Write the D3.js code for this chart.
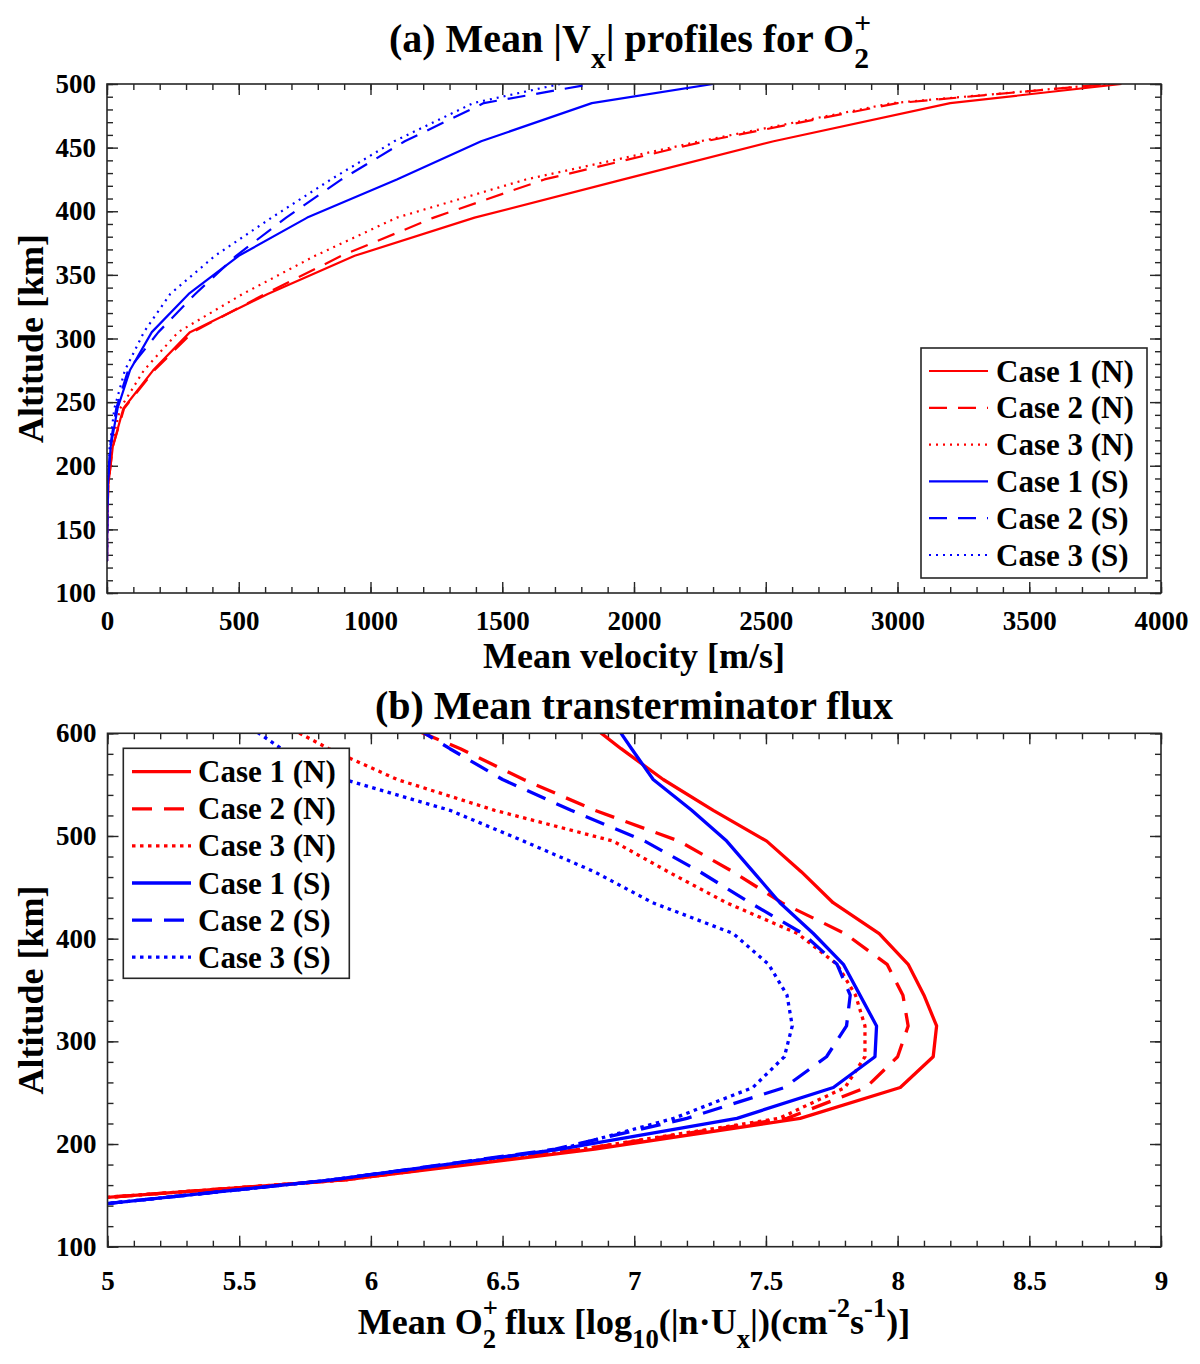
<!DOCTYPE html>
<html>
<head>
<meta charset="utf-8">
<script src="https://cdn.jsdelivr.net/npm/d3@7"></script>
<style>
  body { margin: 0; background: #fff; }
  svg text { font-family: "Liberation Serif", "Times New Roman", serif; font-weight: bold; fill: #000; }
</style>
</head>
<body>
<svg id="fig" width="1200" height="1364"></svg>
<script>
// ---- data ----
const caseLabels = ["Case 1 (N)", "Case 2 (N)", "Case 3 (N)", "Case 1 (S)", "Case 2 (S)", "Case 3 (S)"];
const caseColors = ["#ff0000", "#ff0000", "#ff0000", "#0000ff", "#0000ff", "#0000ff"];
const caseStyles = ["solid", "dashed", "dotted", "solid", "dashed", "dotted"];

// panel (a): mean |Vx| [m/s] vs altitude [km]
const altA = [125, 155, 185, 215, 245, 275, 305, 335, 365, 395, 425, 455, 485, 500];
const velN1 = [0, 1, 5, 22, 62, 175, 315, 610, 940, 1395, 1960, 2530, 3200, 3850];
const velN2 = [0, 1, 5, 22, 65, 180, 325, 600, 890, 1240, 1660, 2270, 3000, 3800];
const velN3 = [0, 1, 4, 16, 50, 140, 270, 515, 790, 1100, 1590, 2250, 2980, 3800];
const velS1 = [0, 1, 3, 14, 40, 87, 170, 310, 500, 760, 1100, 1420, 1840, 2300];
const velS2 = [0, 1, 3, 12, 35, 80, 195, 335, 490, 680, 890, 1130, 1430, 1840];
const velS3 = [0, 1, 3, 10, 28, 68, 140, 240, 410, 625, 850, 1090, 1390, 1720];
const velTicks = [0, 500, 1000, 1500, 2000, 2500, 3000, 3500, 4000];
const altTicksA = [100, 150, 200, 250, 300, 350, 400, 450, 500];

// panel (b): log10 flux vs altitude [km]
const altB = [135, 165, 195, 225, 255, 285, 315, 345, 375, 405, 435, 465, 495, 525, 555, 585, 615];
const fluxN1 = [4.3, 5.9, 6.85, 7.63, 8.01, 8.135, 8.148, 8.10, 8.04, 7.93, 7.755, 7.635, 7.503, 7.30, 7.11, 6.95, 6.80];
const fluxN2 = [4.3, 5.9, 6.8, 7.58, 7.88, 8.0, 8.04, 8.02, 7.96, 7.80, 7.56, 7.376, 7.17, 6.85, 6.58, 6.34, 6.06];
const fluxN3 = [4.3, 5.9, 6.8, 7.55, 7.8, 7.876, 7.876, 7.84, 7.77, 7.62, 7.35, 7.13, 6.92, 6.47, 6.10, 5.84, 5.62];
const fluxS1 = [4.74, 5.85, 6.72, 7.39, 7.756, 7.914, 7.92, 7.857, 7.794, 7.68, 7.553, 7.452, 7.351, 7.218, 7.072, 6.99, 6.91];
const fluxS2 = [4.74, 5.85, 6.7, 7.2, 7.57, 7.73, 7.806, 7.82, 7.77, 7.64, 7.44, 7.25, 7.04, 6.76, 6.50, 6.30, 6.11];
const fluxS3 = [4.74, 5.85, 6.72, 7.15, 7.45, 7.57, 7.60, 7.58, 7.51, 7.376, 7.07, 6.85, 6.58, 6.30, 5.90, 5.66, 5.49];
const fluxTicks = [5, 5.5, 6, 6.5, 7, 7.5, 8, 8.5, 9];
const altTicksB = [100, 200, 300, 400, 500, 600];

const fig = d3.select("#fig");
const axisColor = "#262626";

// write text made of plain / sub / sup pieces; "stack" puts a piece over the previous one
function rich(text, parts, fs) {
  let cur = 0;
  let back = 0; // dx to apply to the next piece
  let prev = null;
  parts.forEach(p => {
    const shift = p.s === "sub" ? fs * 0.4 : (p.s === "sup" || p.s === "stack") ? -fs * 0.48 : 0;
    const ts = text.append("tspan")
      .attr("dy", shift - cur)
      .style("font-size", p.s ? (fs * 0.74) + "px" : null)
      .text(p.t);
    if (p.s === "stack" && prev) {
      const wPrev = prev.node().getComputedTextLength();
      ts.attr("dx", -wPrev);
      back = wPrev - ts.node().getComputedTextLength();
    } else {
      if (back) ts.attr("dx", back);
      back = 0;
    }
    cur = shift;
    prev = ts;
  });
}

function drawPanel(cfg) {
  const x = d3.scaleLinear().domain(cfg.xDomain).range([cfg.x0, cfg.x1]);
  const y = d3.scaleLinear().domain(cfg.yDomain).range([cfg.y1, cfg.y0]);
  const g = fig.append("g").attr("color", axisColor);

  const xMinor = d3.range(cfg.xDomain[0], cfg.xDomain[1] + 1e-9, cfg.xMinorStep);
  const yMinor = d3.range(cfg.yDomain[0], cfg.yDomain[1] + 1e-9, cfg.yMinorStep);

  // minor ticks on all four sides
  const minor = [
    [d3.axisBottom(x).tickValues(xMinor), `translate(0,${cfg.y1})`],
    [d3.axisTop(x).tickValues(xMinor), `translate(0,${cfg.y0})`],
    [d3.axisLeft(y).tickValues(yMinor), `translate(${cfg.x0},0)`],
    [d3.axisRight(y).tickValues(yMinor), `translate(${cfg.x1},0)`]
  ];
  minor.forEach(([ax, tr]) => {
    g.append("g").attr("transform", tr)
      .call(ax.tickSize(-6).tickFormat(""))
      .call(s => s.select(".domain").remove())
      .selectAll("line").attr("stroke-width", 1.4);
  });

  // major ticks, labelled on bottom and left
  g.append("g").attr("transform", `translate(0,${cfg.y1})`)
    .call(d3.axisBottom(x).tickValues(cfg.xTicks).tickSize(-11).tickPadding(cfg.xPad).tickFormat(d3.format("")))
    .call(s => s.select(".domain").remove())
    .call(s => s.selectAll("line").attr("stroke-width", 1.4))
    .call(s => s.selectAll("text").style("font-size", "27px"));
  g.append("g").attr("transform", `translate(0,${cfg.y0})`)
    .call(d3.axisTop(x).tickValues(cfg.xTicks).tickSize(-11).tickFormat(""))
    .call(s => s.select(".domain").remove())
    .selectAll("line").attr("stroke-width", 1.4);
  g.append("g").attr("transform", `translate(${cfg.x0},0)`)
    .call(d3.axisLeft(y).tickValues(cfg.yTicks).tickSize(-11).tickPadding(11))
    .call(s => s.select(".domain").remove())
    .call(s => s.selectAll("line").attr("stroke-width", 1.4))
    .call(s => s.selectAll("text").style("font-size", "27px"));
  g.append("g").attr("transform", `translate(${cfg.x1},0)`)
    .call(d3.axisRight(y).tickValues(cfg.yTicks).tickSize(-11).tickFormat(""))
    .call(s => s.select(".domain").remove())
    .selectAll("line").attr("stroke-width", 1.4);

  // curves
  const clipId = "clip-" + cfg.id;
  fig.append("clipPath").attr("id", clipId)
    .append("rect")
    .attr("x", cfg.x0).attr("y", cfg.y0)
    .attr("width", cfg.x1 - cfg.x0).attr("height", cfg.y1 - cfg.y0);

  const line = d3.line().x(d => x(d.v)).y(d => y(d.a));
  const plot = fig.append("g").attr("clip-path", `url(#${clipId})`);
  cfg.series.forEach((vals, i) => {
    const pts = cfg.alts.map((a, j) => ({ a: a, v: vals[j] }));
    plot.append("path")
      .datum(pts)
      .attr("d", line)
      .attr("fill", "none")
      .attr("stroke", caseColors[i])
      .attr("stroke-width", cfg.lw)
      .attr("stroke-linejoin", "round")
      .attr("stroke-dasharray", cfg.dash[caseStyles[i]]);
  });

  // box
  fig.append("rect")
    .attr("x", cfg.x0).attr("y", cfg.y0)
    .attr("width", cfg.x1 - cfg.x0).attr("height", cfg.y1 - cfg.y0)
    .attr("fill", "none")
    .attr("stroke", axisColor)
    .attr("stroke-width", 1.6);

  // legend
  const L = cfg.legend;
  const lg = fig.append("g");
  lg.append("rect")
    .attr("x", L.x).attr("y", L.y).attr("width", L.w).attr("height", L.h)
    .attr("fill", "#fff").attr("stroke", axisColor).attr("stroke-width", 1.6);
  caseLabels.forEach((lab, i) => {
    const cy = L.firstRow + i * L.rowStep;
    lg.append("line")
      .attr("x1", L.lineX0).attr("x2", L.lineX1)
      .attr("y1", cy).attr("y2", cy)
      .attr("stroke", caseColors[i])
      .attr("stroke-width", cfg.lw)
      .attr("stroke-dasharray", cfg.dash[caseStyles[i]]);
    lg.append("text")
      .attr("x", L.textX).attr("y", cy + 10.5)
      .style("font-size", "31px")
      .text(lab);
  });

  // y label
  fig.append("text")
    .attr("transform", `translate(43,${(cfg.y0 + cfg.y1) / 2}) rotate(-90)`)
    .attr("text-anchor", "middle")
    .style("font-size", "36px")
    .text("Altitude [km]");

  return { x, y };
}

// ---- panel (a) ----
drawPanel({
  id: "a",
  x0: 107, x1: 1161, y0: 84, y1: 593,
  xDomain: [0, 4000], yDomain: [100, 500],
  xTicks: velTicks, yTicks: altTicksA,
  xMinorStep: 100, yMinorStep: 10,
  xPad: 18,
  alts: altA,
  series: [velN1, velN2, velN3, velS1, velS2, velS3],
  lw: 2.2,
  dash: { solid: null, dashed: "18,11", dotted: "2,5" },
  legend: { x: 921, y: 348, w: 226, h: 230, firstRow: 371, rowStep: 36.8, lineX0: 929, lineX1: 988, textX: 996 }
});

// ---- panel (b) ----
drawPanel({
  id: "b",
  x0: 107.5, x1: 1161, y0: 733.3, y1: 1246.7,
  xDomain: [5, 9], yDomain: [100, 600],
  xTicks: fluxTicks, yTicks: altTicksB,
  xMinorStep: 0.1, yMinorStep: 20,
  xPad: 24,
  alts: altB,
  series: [fluxN1, fluxN2, fluxN3, fluxS1, fluxS2, fluxS3],
  lw: 3.3,
  dash: { solid: null, dashed: "20,12", dotted: "3.5,4.5" },
  legend: { x: 123.3, y: 748.3, w: 226, h: 230, firstRow: 771.7, rowStep: 37.1, lineX0: 132, lineX1: 191, textX: 198 }
});

// ---- titles and x labels ----
const titleA = fig.append("text")
  .attr("x", 630).attr("y", 52)
  .attr("text-anchor", "middle")
  .style("font-size", "40px");
rich(titleA, [
  { t: "(a) Mean |V" }, { t: "x", s: "sub" }, { t: "| profiles for O" }, { t: "2", s: "sub" }, { t: "+", s: "stack" }
], 40);

fig.append("text")
  .attr("x", 634).attr("y", 668)
  .attr("text-anchor", "middle")
  .style("font-size", "36px")
  .text("Mean velocity [m/s]");

fig.append("text")
  .attr("x", 634).attr("y", 719)
  .attr("text-anchor", "middle")
  .style("font-size", "40px")
  .text("(b) Mean transterminator flux");

const xlabB = fig.append("text")
  .attr("x", 634).attr("y", 1334)
  .attr("text-anchor", "middle")
  .style("font-size", "36px");
rich(xlabB, [
  { t: "Mean O" }, { t: "2", s: "sub" }, { t: "+", s: "stack" }, { t: " flux [log" }, { t: "10", s: "sub" },
  { t: "(|n\u00b7U" }, { t: "x", s: "sub" }, { t: "|)(cm" }, { t: "-2", s: "sup" },
  { t: "s" }, { t: "-1", s: "sup" }, { t: ")]" }
], 36);
</script>
</body>
</html>
